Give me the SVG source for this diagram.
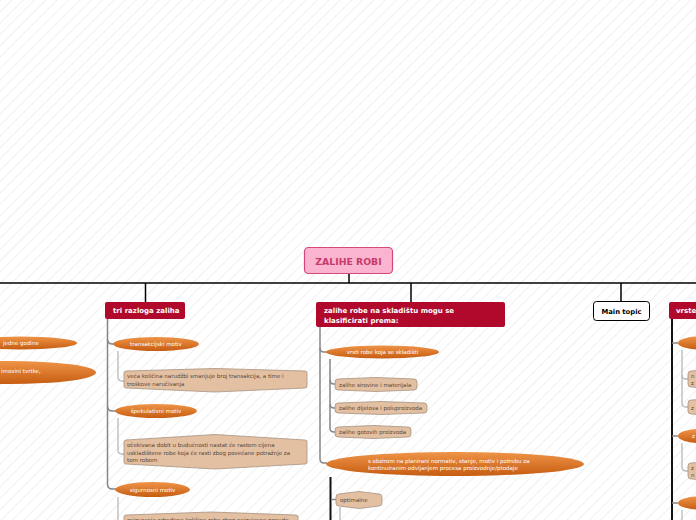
<svg xmlns="http://www.w3.org/2000/svg" width="696" height="520" viewBox="0 0 696 520">
<style>
text{font-family:"DejaVu Sans","Liberation Sans",sans-serif}
.red{fill:#b0092c}
.rt{font-size:7px;font-weight:bold;fill:#fff}
.ell{fill:url(#og)}
.et{font-size:5.5px;fill:#fff;text-anchor:middle}
.etl{font-size:5.5px;fill:#fff}
.hex{fill:#e3c0a1;stroke:#a89282;stroke-width:0.8}
.ht{font-size:5.5px;fill:#5a4636}
.c1{stroke:#000;stroke-width:1.5;fill:none}
.cb{stroke:#111;stroke-width:2;fill:none}
.c2{stroke:#868686;stroke-width:1.5;fill:none}
.c3{stroke:#b8b8b8;stroke-width:1.3;fill:none}
</style>
<defs>
<pattern id="stripes" width="8" height="8" patternUnits="userSpaceOnUse" patternTransform="rotate(45)">
<line x1="0" y1="0" x2="0" y2="8" stroke="#f0f0f0" stroke-width="2"/>
</pattern>
<linearGradient id="og" x1="0" y1="0" x2="0" y2="1">
<stop offset="0" stop-color="#ef9447"/>
<stop offset="1" stop-color="#c65d12"/>
</linearGradient>
</defs>
<rect width="696" height="520" fill="#fff"/>
<rect width="696" height="520" fill="url(#stripes)"/>

<g id="connectors">
<path class="c1" d="M0,283 H696"/>
<path class="c1" d="M349,274 V283"/>
<path class="c1" d="M145.5,283 V302"/>
<path class="c1" d="M411,283 V302"/>
<path class="c1" d="M621,283 V301"/>
<path class="c2" d="M107.5,319 V484 Q107.5,489 112.5,489 H116"/>
<path class="c2" d="M107.5,339 Q107.5,344 112.5,344 H114"/>
<path class="c2" d="M107.5,406 Q107.5,411 112.5,411 H116"/>
<path class="c3" d="M118,351 V377 Q118,381 122,381 H125"/>
<path class="c3" d="M118,418 V450 Q118,454 122,454 H125"/>
<path class="c3" d="M118,497 V520"/>
<path class="c2" d="M320,327 V459 Q320,463 324,463 H327"/>
<path class="c2" d="M320,348 Q320,352 324,352 H327"/>
<path class="c2" d="M330,359 V428 Q330,432 334,432 H336"/>
<path class="c2" d="M330,380 Q330,384 334,384 H336"/>
<path class="c2" d="M330,404 Q330,408 334,408 H336"/>
<path class="cb" d="M330.5,477 V520"/>
<path class="c2" d="M331,499.5 H336"/>
<path class="c3" d="M340,507 V520"/>
<path class="cb" d="M672,319 V520"/>
<path class="c2" d="M672,343 H678"/>
<path class="c2" d="M672,436 H678"/>
<path class="c2" d="M672,503 H678"/>
<path class="c3" d="M682,350 V403 Q682,407 686,407 H688"/>
<path class="c3" d="M682,375 Q682,379 686,379 H688"/>
<path class="c3" d="M682,443 V467 Q682,471 686,471 H688"/>
<path class="c3" d="M682,510 V520"/>
</g>

<g id="root">
<rect x="304.5" y="247.5" width="88" height="26" rx="4" fill="#fbb4cf" stroke="#d6487c" stroke-width="1.2"/>
<text x="348.5" y="264.5" text-anchor="middle" font-size="9.3" font-weight="bold" fill="#c43a6c">ZALIHE ROBI</text>
</g>

<g id="left-items">
<ellipse class="ell" cx="20" cy="343" rx="57" ry="6.5"/>
<text class="etl" x="3" y="345">jedne godine</text>
<ellipse class="ell" cx="10" cy="372.5" rx="86" ry="11.5"/>
<text class="etl" x="1" y="372.5">imovini tvrtke,</text>
</g>

<g id="tri-razloga">
<rect class="red" x="105" y="302" width="80" height="17" rx="2"/>
<text class="rt" x="113" y="313">tri razloga zaliha</text>
</g>
<g id="transakcijski">
<ellipse class="ell" cx="156" cy="344" rx="43" ry="7"/>
<text class="et" x="156" y="346">transakcijski motiv</text>
</g>
<g id="transakcijski-opis">
<path class="hex" d="M126,371 L215,368.5 L305,371 Q307,371 307,373 V386 Q307,388 305,388 L215,392 L126,388 Q124,388 124,386 V373 Q124,371 126,371 Z"/>
<text class="ht" x="127" y="378">veća količina narudžbi smanjuje broj transakcija, a time i</text>
<text class="ht" x="127" y="385.5">troškove naručivanja</text>
</g>
<g id="spekulativni">
<ellipse class="ell" cx="156" cy="411" rx="41" ry="7"/>
<text class="et" x="156" y="413">špekulativni motiv</text>
</g>
<g id="spekulativni-opis">
<path class="hex" d="M126,440 L215,434.5 L305,440 Q307,440 307,442 V462 Q307,464 305,464 L215,469 L126,464 Q124,464 124,462 V442 Q124,440 126,440 Z"/>
<text class="ht" x="127" y="447">očekivana dobit u budućnosti nastat će rastom cijena</text>
<text class="ht" x="127" y="454.5">uskladištene robe koja će rasti zbog povećane potražnje za</text>
<text class="ht" x="127" y="462">tom robom</text>
</g>
<g id="sigurnosni">
<ellipse class="ell" cx="152.5" cy="489.5" rx="37.5" ry="7.5"/>
<text class="et" x="152.5" y="491.5">sigurnosni motiv</text>
</g>
<g id="sigurnosni-opis">
<path class="hex" d="M126,515 L211,512 L296,515 Q298,515 298,517 V530 L124,530 V517 Q124,515 126,515 Z"/>
<text class="ht" x="127" y="521.5">osiguranje određene količine robe zbog neizvjesne ponude</text>
</g>

<g id="zalihe-robe">
<rect class="red" x="316" y="302" width="189" height="25" rx="2"/>
<text class="rt" x="324" y="313">zalihe robe na skladištu mogu se</text>
<text class="rt" x="324" y="322.5">klasificirati prema:</text>
</g>
<g id="vrsti-robe">
<ellipse class="ell" cx="382.5" cy="352" rx="56.5" ry="6.5"/>
<text class="et" x="382.5" y="354">vrsti robe koja se skladišti</text>
</g>
<g id="sirovine">
<path class="hex" d="M338,379 L376,377.5 L414,379 Q417,379 417,382 V387 Q417,390 414,390 L376,391.5 L338,390 Q335,390 335,387 V382 Q335,379 338,379 Z"/>
<text class="ht" x="339" y="386.5">zalihe sirovine i materijala</text>
</g>
<g id="dijelovi">
<path class="hex" d="M338,403 L381,401.5 L424,403 Q427,403 427,406 V410 Q427,413 424,413 L381,414.5 L338,413 Q335,413 335,410 V406 Q335,403 338,403 Z"/>
<text class="ht" x="339" y="410">zalihe dijelova i poluproizvoda</text>
</g>
<g id="gotovi">
<path class="hex" d="M338,427 L373,425.5 L408,427 Q411,427 411,430 V434 Q411,437 408,437 L373,438.5 L338,437 Q335,437 335,434 V430 Q335,427 338,427 Z"/>
<text class="ht" x="339" y="434">zalihe gotovih proizvoda</text>
</g>
<g id="normativ">
<ellipse class="ell" cx="455" cy="464" rx="129" ry="12"/>
<text class="etl" x="368" y="462.5">s obzirom na planirani normativ, stanje, motiv i potrebu za</text>
<text class="etl" x="368" y="469.5">kontinuiranim odvijanjem procesa proizvodnje/ptodaje</text>
</g>
<g id="optimalne">
<path class="hex" d="M339,494 L359,491.5 L379,494 Q382,494 382,497 V503 Q382,506 379,506 L359,508.5 L339,506 Q336,506 336,503 V497 Q336,494 339,494 Z"/>
<text class="ht" x="340" y="502">optimalne</text>
</g>

<g id="main-topic">
<rect x="593.5" y="301.5" width="56" height="19" rx="3" fill="#fff" stroke="#000" stroke-width="1"/>
<text x="621.5" y="313.5" text-anchor="middle" font-size="6.8" font-weight="bold" fill="#000">Main topic</text>
</g>

<g id="vrste">
<rect class="red" x="669" y="302" width="40" height="17" rx="2"/>
<text class="rt" x="676" y="313">vrste</text>
</g>
<g id="vrste-e1"><ellipse class="ell" cx="700" cy="343" rx="22" ry="6.5"/></g>
<g id="vrste-h1">
<path class="hex" d="M691,371 L720,369 L740,371 V387 L720,389 L691,387 Q688,387 688,384 V374 Q688,371 691,371 Z"/>
<text class="ht" x="691" y="378">n</text>
<text class="ht" x="691" y="385">z</text>
</g>
<g id="vrste-h2">
<path class="hex" d="M691,400 L720,398.5 L740,400 V414 L720,415.5 L691,414 Q688,414 688,411 V403 Q688,400 691,400 Z"/>
<text class="ht" x="691" y="409.5">z</text>
</g>
<g id="vrste-e2"><ellipse class="ell" cx="700" cy="436" rx="22" ry="7"/>
<text class="etl" x="692" y="438">z</text></g>
<g id="vrste-h3">
<path class="hex" d="M691,463 L720,461 L740,463 V479 L720,481 L691,479 Q688,479 688,476 V466 Q688,463 691,463 Z"/>
<text class="ht" x="691" y="470">z</text>
<text class="ht" x="691" y="477">n</text>
</g>
<g id="vrste-e3"><ellipse class="ell" cx="700" cy="503" rx="22" ry="6.5"/></g>
</svg>
